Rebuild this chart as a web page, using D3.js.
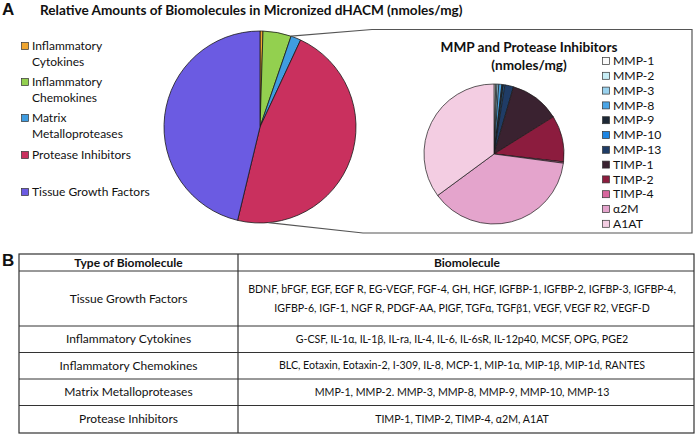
<!DOCTYPE html>
<html><head><meta charset="utf-8">
<script src="https://cdn.jsdelivr.net/npm/d3@7"></script>
<style>
html,body{margin:0;padding:0;background:#fff;}
text{font-family:Lato,"Open Sans",sans-serif;fill:#111;}
</style></head>
<body>
<svg id="c" width="700" height="435"></svg>
<script>
// ---------- DATA ----------
const mainCategories = ["Inflammatory Cytokines","Inflammatory Chemokines","Matrix Metalloproteases","Protease Inhibitors","Tissue Growth Factors"];
const mainValues = [0.5, 4.75, 1.7, 46.8, 46.25];
const mainColors = ["#f0a630","#93d04f","#3f9ce0","#c9305e","#6b5be2"];
const mainLegendLines = [["Inflammatory","Cytokines"],["Inflammatory","Chemokines"],["Matrix","Metalloproteases"],["Protease Inhibitors"],["Tissue Growth Factors"]];

const subCategories = ["MMP-1","MMP-2","MMP-3","MMP-8","MMP-9","MMP-10","MMP-13","TIMP-1","TIMP-2","TIMP-4","α2M","A1AT"];
const subValues = [0.4, 0.3, 0.4, 0.7, 0.4, 0.3, 2.0, 11.6, 10.7, 0.3, 37.8, 35.1];
const subColors = ["#fafafa","#c8eef6","#9ad2ee","#4aa5e6","#1d2836","#1e86e3","#1f3c66","#3a2230","#8c1c3e","#d8679e","#e4a4cc","#f3cde2"];

const tableHeader = ["Type of Biomolecule","Biomolecule"];
const tableTypes = ["Tissue Growth Factors","Inflammatory Cytokines","Inflammatory Chemokines","Matrix Metalloproteases","Protease Inhibitors"];
const tableMolecules = [
  ["BDNF, bFGF, EGF, EGF R, EG-VEGF, FGF-4, GH, HGF, IGFBP-1, IGFBP-2, IGFBP-3, IGFBP-4,","IGFBP-6, IGF-1, NGF R, PDGF-AA, PIGF, TGFα, TGFβ1, VEGF, VEGF R2, VEGF-D"],
  ["G-CSF, IL-1α, IL-1β, IL-ra, IL-4, IL-6, IL-6sR, IL-12p40, MCSF, OPG, PGE2"],
  ["BLC, Eotaxin, Eotaxin-2, I-309, IL-8, MCP-1, MIP-1α, MIP-1β, MIP-1d, RANTES"],
  ["MMP-1, MMP-2. MMP-3, MMP-8, MMP-9, MMP-10, MMP-13"],
  ["TIMP-1, TIMP-2, TIMP-4, α2M, A1AT"]
];
const mainTitle = "Relative Amounts of Biomolecules in Micronized dHACM (nmoles/mg)";
const subTitle = ["MMP and Protease Inhibitors","(nmoles/mg)"];

// ---------- DRAW ----------
const svg = d3.select("#c");

function fitSize(sel, w){
  const L = sel.node().getComputedTextLength();
  return parseFloat(sel.attr("font-size")) * w / L;
}

// panel letters
svg.append("text").attr("x",2).attr("y",15).attr("font-size",17).attr("font-weight","bold")
  .style("font-family","Arial, 'Liberation Sans', sans-serif").text("A");
svg.append("text").attr("x",2).attr("y",266).attr("font-size",17).attr("font-weight","bold")
  .style("font-family","Arial, 'Liberation Sans', sans-serif").text("B");

// main title
const mt = svg.append("text").attr("x",40).attr("y",15).attr("font-size",14).attr("font-weight","bold").text(mainTitle);
mt.attr("font-size", fitSize(mt, 423));

// main pie
const pie = d3.pie().sort(null).value(d=>d);
const mainCx = 260, mainCy = 127, mainR = 96;
const mainArcs = pie(mainValues);
const arcMain = d3.arc().innerRadius(0).outerRadius(mainR);
const gMain = svg.append("g").attr("transform",`translate(${mainCx},${mainCy})`);
gMain.selectAll("path").data(mainArcs).join("path")
  .attr("d",arcMain).attr("fill",(d,i)=>mainColors[i])
  .attr("stroke","#1a1a1a").attr("stroke-width",0.8).attr("stroke-linejoin","round");

// main legend
const legYs = [46,82,118,155,192];
mainLegendLines.forEach((lines,i)=>{
  svg.append("rect").attr("x",21.5).attr("y",legYs[i]-3.5).attr("width",7).attr("height",7)
    .attr("fill",mainColors[i]).attr("stroke","#333").attr("stroke-width",0.7);
  lines.forEach((t,j)=>{
    svg.append("text").attr("x",32).attr("y",legYs[i]+15.5*j).attr("dy","0.35em").attr("font-size",12).text(t);
  });
});

// connector + box
const a0 = mainArcs[2].startAngle;
const p0 = [mainCx + mainR*Math.sin(a0), mainCy - mainR*Math.cos(a0)];
const a1 = Math.PI*175/180;
const p1 = [mainCx + mainR*Math.sin(a1), mainCy - mainR*Math.cos(a1)];
svg.append("path").attr("fill","none").attr("stroke","#555").attr("stroke-width",1.2)
  .attr("d",`M${p0[0]},${p0[1]} L372,29.5 L692,29.5 L692,233 L363,233 L${p1[0]},${p1[1]}`);

// sub title
const st0 = svg.append("text").attr("x",529).attr("y",47).attr("dy","0.35em").attr("text-anchor","middle")
  .attr("font-size",13).attr("font-weight","bold").text(subTitle[0]);
const subFs = fitSize(st0,177);
st0.attr("font-size",subFs);
svg.append("text").attr("x",529).attr("y",65.5).attr("dy","0.35em").attr("text-anchor","middle")
  .attr("font-size",subFs).attr("font-weight","bold").text(subTitle[1]);

// sub pie
const subCx = 494, subCy = 154, subR = 70;
const arcSub = d3.arc().innerRadius(0).outerRadius(subR);
const gSub = svg.append("g").attr("transform",`translate(${subCx},${subCy})`);
gSub.selectAll("path").data(pie(subValues)).join("path")
  .attr("d",arcSub).attr("fill",(d,i)=>subColors[i])
  .attr("stroke","#1a1a1a").attr("stroke-width",0.7).attr("stroke-linejoin","round");

// sub legend
subCategories.forEach((c,i)=>{
  const y = 61 + i*14.8;
  svg.append("rect").attr("x",602.5).attr("y",y-3.5).attr("width",7).attr("height",7)
    .attr("fill",subColors[i]).attr("stroke","#333").attr("stroke-width",0.7);
  svg.append("text").attr("x",613).attr("y",y).attr("dy","0.35em").attr("font-size",12.2).text(c);
});

// table
const tx0 = 19, tx1 = 694, txs = 238;
const rowYs = [254, 271, 326, 352.5, 379, 405.5, 433];
const tg = svg.append("g");
tg.append("rect").attr("x",tx0).attr("y",rowYs[0]).attr("width",tx1-tx0).attr("height",rowYs[6]-rowYs[0])
  .attr("fill","none").attr("stroke","#333").attr("stroke-width",1.2);
rowYs.slice(1,6).forEach(y=>tg.append("line").attr("x1",tx0).attr("x2",tx1).attr("y1",y).attr("y2",y).attr("stroke","#333").attr("stroke-width",1));
tg.append("line").attr("x1",txs).attr("x2",txs).attr("y1",rowYs[0]).attr("y2",rowYs[6]).attr("stroke","#333").attr("stroke-width",1.2);

const c1 = (tx0+txs)/2, c2 = 462;
tableHeader.forEach((h,i)=>{
  tg.append("text").attr("x",i?467:c1).attr("y",(rowYs[0]+rowYs[1])/2).attr("dy","0.35em")
    .attr("text-anchor","middle").attr("font-size",12).attr("font-weight","bold").text(h);
});
const leftFs = 12;
const probe2 = tg.append("text").attr("font-size",12).text(tableMolecules[0][0]);
const rightFs = fitSize(probe2,428); probe2.remove();

tableTypes.forEach((t,i)=>{
  const yc = (rowYs[i+1]+rowYs[i+2])/2;
  tg.append("text").attr("x",c1).attr("y",yc).attr("dy","0.35em").attr("text-anchor","middle").attr("font-size",leftFs).text(t);
  const lines = tableMolecules[i];
  lines.forEach((l,j)=>{
    tg.append("text").attr("x",c2).attr("y",yc + (j-(lines.length-1)/2)*19).attr("dy","0.35em")
      .attr("text-anchor","middle").attr("font-size",rightFs).text(l);
  });
});
</script>
</body></html>
